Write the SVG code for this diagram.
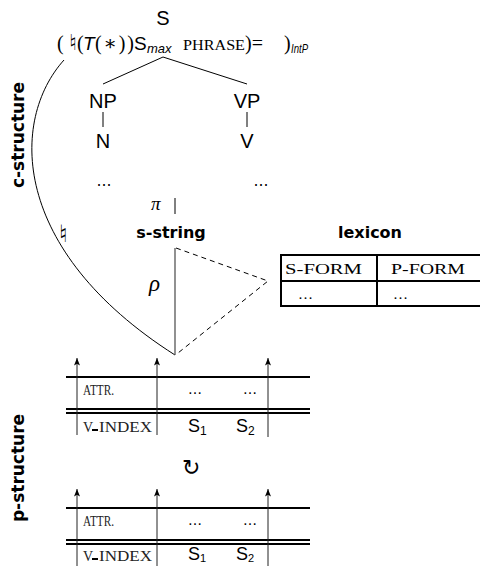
<svg xmlns="http://www.w3.org/2000/svg" width="480" height="566" viewBox="0 0 480 566">
<defs>
<style>
.sans{font-family:"Liberation Sans","DejaVu Sans",sans-serif;fill:#000}
.serif{font-family:"Liberation Serif","DejaVu Serif",serif;fill:#000}
.bold{font-family:"DejaVu Sans","Liberation Sans",sans-serif;font-weight:bold;fill:#000}
.sym{font-family:"DejaVu Sans",sans-serif;fill:#000}
.ln{stroke:#000;stroke-width:1;fill:none}
.thick{stroke:#000;stroke-width:2;fill:none}
.dash{stroke:#000;stroke-width:1;fill:none;stroke-dasharray:5,4}
.arr{stroke:#222;stroke-width:1;fill:none;marker-end:url(#ah)}
.sc{font-family:"Liberation Serif","DejaVu Serif",serif;fill:#222}
</style>
<marker id="ah" viewBox="0 0 10 8" refX="10" refY="4" markerWidth="9" markerHeight="6" markerUnits="userSpaceOnUse" orient="auto">
<path d="M0,0 L10,4 L0,8 L2.5,4 z" fill="#000"/>
</marker>
</defs>

<g id="labels">
<text class="bold" font-size="17" transform="translate(24,135) rotate(-90)" text-anchor="middle">c-structure</text>
<text class="bold" font-size="17" transform="translate(24,468) rotate(-90)" text-anchor="middle">p-structure</text>
</g>

<g id="connectors">
<line class="ln" x1="163" y1="57" x2="103" y2="84"/>
<line class="ln" x1="163" y1="57" x2="247" y2="84"/>
<line class="ln" x1="103" y1="112" x2="103" y2="127"/>
<line class="ln" x1="247" y1="112" x2="247" y2="127"/>
<line class="ln" x1="175" y1="198" x2="175" y2="214"/>
<path class="ln" d="M64 60 C10 120 10 250 175 355"/>
<line x1="175" y1="248" x2="175" y2="355" stroke="#555" stroke-width="1.3"/>
<path class="dash" d="M176 248 L268 281 L178 353"/>
</g>

<g id="node-S">
<text class="sans" font-size="20" x="163" y="25" text-anchor="middle">S</text>
<text class="serif" font-size="20" x="57" y="50">(</text>
<text class="sym" font-size="22" x="69" y="50">♮</text>
<text class="serif" font-size="20" x="77" y="50">(</text>
<text class="sans" font-size="19" font-style="italic" x="83" y="50">T</text>
<text class="serif" font-size="20" x="95" y="50" textLength="39" lengthAdjust="spacing">(∗))</text>
<text class="sans" font-size="19" x="134" y="50">S</text>
<text class="sans" font-size="13" font-style="italic" x="147" y="53">max</text>
<text class="serif" font-size="14" x="183" y="50" textLength="62" lengthAdjust="spacingAndGlyphs">PHRASE</text>
<text class="serif" font-size="20" x="245" y="50">)=</text>
<text class="serif" font-size="20" x="284" y="50">)</text>
<text class="sans" font-size="13" font-style="italic" x="291" y="53" textLength="17" lengthAdjust="spacingAndGlyphs">IntP</text>
</g>

<g id="node-NP"><text class="sans" font-size="20" x="103" y="108" text-anchor="middle">NP</text></g>
<g id="node-VP"><text class="sans" font-size="20" x="247" y="108" text-anchor="middle">VP</text></g>
<g id="node-N"><text class="sans" font-size="20" x="103" y="148" text-anchor="middle">N</text></g>
<g id="node-V"><text class="sans" font-size="20" x="247" y="148" text-anchor="middle">V</text></g>
<g id="dots-1"><text class="sym" font-size="15" x="104" y="186" text-anchor="middle">…</text></g>
<g id="dots-2"><text class="sym" font-size="15" x="261" y="186" text-anchor="middle">…</text></g>

<g id="pi"><text class="serif" font-size="19" font-style="italic" x="151" y="210">π</text></g>
<g id="natural"><text class="sym" font-size="24" x="59" y="242">♮</text></g>
<g id="rho"><text class="serif" font-size="23" font-style="italic" x="149" y="291">ρ</text></g>

<g id="node-sstring"><text class="bold" font-size="16" x="171" y="238" text-anchor="middle">s-string</text></g>

<g id="node-lexicon">
<text class="bold" font-size="16" x="370" y="238" text-anchor="middle">lexicon</text>
<rect class="thick" x="281" y="255" width="220" height="51"/>
<line class="thick" x1="281" y1="281" x2="480" y2="281"/>
<line class="thick" x1="377" y1="255" x2="377" y2="306"/>
<text class="serif" font-size="15" x="285" y="274" textLength="77" lengthAdjust="spacingAndGlyphs">S-FORM</text>
<text class="serif" font-size="15" x="391" y="274" textLength="74" lengthAdjust="spacingAndGlyphs">P-FORM</text>
<text class="serif" font-size="15" x="298" y="299" textLength="17" lengthAdjust="spacing">…</text>
<text class="serif" font-size="15" x="393" y="299" textLength="17" lengthAdjust="spacing">…</text>
</g>

<g id="pstruct-1">
<line class="thick" x1="66" y1="377" x2="310" y2="377"/>
<line class="thick" x1="66" y1="409" x2="310" y2="409"/>
<line class="thick" x1="66" y1="413" x2="310" y2="413"/>
<line class="arr" x1="77" y1="435" x2="77" y2="358"/>
<line class="arr" x1="157" y1="435" x2="157" y2="358"/>
<line class="arr" x1="268" y1="437" x2="268" y2="358"/>
<text class="sc" font-size="14" x="83" y="395" textLength="31" lengthAdjust="spacingAndGlyphs">ATTR.</text>
<text class="sym" font-size="14" x="195" y="394" text-anchor="middle">…</text>
<text class="sym" font-size="14" x="250" y="394" text-anchor="middle">…</text>
<text class="sc" font-size="14" x="83" y="432">V</text>
<rect x="92" y="429" width="6" height="2" fill="#000"/>
<text class="sc" font-size="14" x="99" y="432" textLength="53" lengthAdjust="spacingAndGlyphs">INDEX</text>
<text class="sans" font-size="18" x="188" y="432">S<tspan font-size="12" dy="3">1</tspan></text>
<text class="sans" font-size="18" x="236" y="432">S<tspan font-size="12" dy="3">2</tspan></text>
</g>

<g id="cycle"><text class="sym" font-size="22" font-weight="200" fill="#777" x="191" y="475" text-anchor="middle">↻</text></g>

<g id="pstruct-2">
<line class="thick" x1="66" y1="508" x2="310" y2="508"/>
<line class="thick" x1="66" y1="540" x2="310" y2="540"/>
<line class="thick" x1="66" y1="544" x2="310" y2="544"/>
<line class="arr" x1="77" y1="570" x2="77" y2="489"/>
<line class="arr" x1="157" y1="570" x2="157" y2="489"/>
<line class="arr" x1="268" y1="570" x2="268" y2="489"/>
<text class="sc" font-size="14" x="83" y="526" textLength="31" lengthAdjust="spacingAndGlyphs">ATTR.</text>
<text class="sym" font-size="14" x="195" y="525" text-anchor="middle">…</text>
<text class="sym" font-size="14" x="250" y="525" text-anchor="middle">…</text>
<text class="sc" font-size="14" x="83" y="561">V</text>
<rect x="92" y="558" width="6" height="2" fill="#000"/>
<text class="sc" font-size="14" x="99" y="561" textLength="53" lengthAdjust="spacingAndGlyphs">INDEX</text>
<text class="sans" font-size="18" x="188" y="560">S<tspan font-size="11" dy="2">1</tspan></text>
<text class="sans" font-size="18" x="236" y="560">S<tspan font-size="11" dy="2">2</tspan></text>
</g>
</svg>
